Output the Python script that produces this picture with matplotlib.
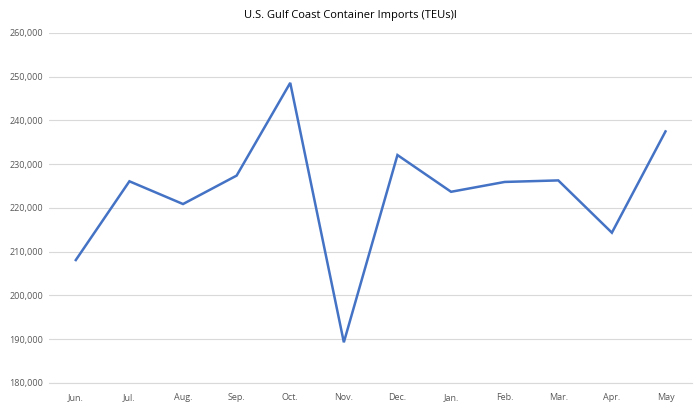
import matplotlib.pyplot as plt
from matplotlib.ticker import FuncFormatter

months = ['Jun.', 'Jul.', 'Aug.', 'Sep.', 'Oct.', 'Nov.', 'Dec.', 'Jan.', 'Feb.', 'Mar.', 'Apr.', 'May']
teus = [208100, 226100, 220900, 227400, 248600, 189300, 232100, 223700, 225950, 226300, 214350, 237500]

plt.rcParams['font.family'] = ['Open Sans', 'DejaVu Sans']

fig = plt.figure(figsize=(7, 4.07), dpi=100)
ax = fig.add_axes([0.07, 0.059, 0.919, 0.86])

x = list(range(len(months)))
ax.plot(x, teus, color='#4472C4', linewidth=1.8, solid_joinstyle='miter')

ax.set_xlim(-0.5, len(months) - 0.5)
ax.set_ylim(180000, 260000)
ax.set_yticks(range(180000, 260001, 10000))
ax.yaxis.set_major_formatter(FuncFormatter(lambda v, p: f'{int(v):,}'))
ax.set_xticks(x)
ax.set_xticklabels(months)

ax.grid(axis='y', color='#d9d9d9', linewidth=0.8)
ax.set_axisbelow(True)
for s in ['top', 'right', 'left']:
    ax.spines[s].set_visible(False)
ax.spines['bottom'].set_color('#d9d9d9')
ax.tick_params(axis='both', length=0, labelsize=6.5, colors='#595959')
ax.tick_params(axis='x', pad=7)
ax.tick_params(axis='y', pad=4)

fig.suptitle('U.S. Gulf Coast Container Imports (TEUs)l', fontsize=8, color='#000000', y=0.975)

plt.savefig('out.png', dpi=100)
